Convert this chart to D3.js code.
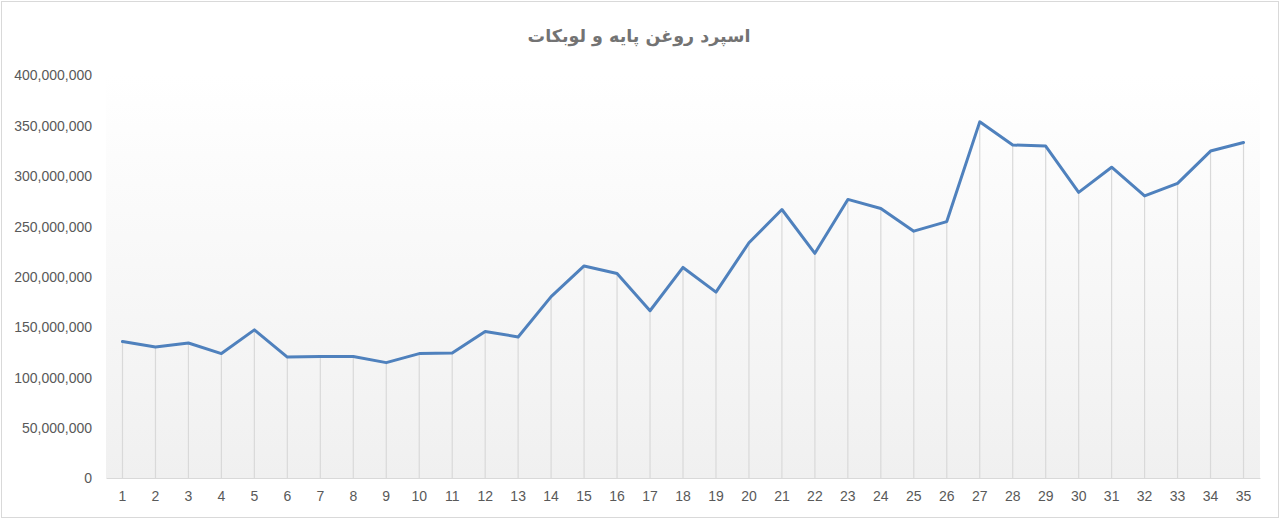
<!DOCTYPE html>
<html>
<head>
<meta charset="utf-8">
<script src="https://cdn.jsdelivr.net/npm/d3@7"></script>
<style>
  html, body { margin: 0; padding: 0; background: #fff; }
  svg { display: block; }
  .tick text { font-family: "Liberation Sans", Arial, sans-serif; font-size: 14px; fill: #595959; }
</style>
</head>
<body>
<svg id="chart" width="1280" height="519"></svg>
<script>
// periods 1..35
const categories = d3.range(1, 36).map(String);

// spread values
const spread = [
  135.5e6, 130e6, 134e6, 123.5e6, 147e6, 120e6, 120.5e6, 120.5e6, 114.5e6, 123.5e6,
  124e6, 145.5e6, 140e6, 180e6, 210.5e6, 203e6, 166e6, 209e6, 184.5e6, 233.5e6,
  266.5e6, 223e6, 276.5e6, 267.5e6, 245e6, 254.5e6, 353.5e6, 330.5e6, 329.5e6, 283.5e6,
  308.5e6, 280e6, 292.5e6, 324.5e6, 333e6
];

const yTicks = [0, 50e6, 100e6, 150e6, 200e6, 250e6, 300e6, 350e6, 400e6];

const title = "اسپرد روغن پایه و لوبکات";

const W = 1280, H = 519;
const margin = {top: 75, right: 20, bottom: 41, left: 106};
const iw = 1260 - margin.left, ih = 478 - margin.top;

const svg = d3.select("#chart");

// outer frame
svg.append("rect")
  .attr("x", 1.5).attr("y", 1.5)
  .attr("width", W - 3).attr("height", H - 3)
  .attr("fill", "#fff").attr("stroke", "#d9d9d9");

const defs = svg.append("defs");
const grad = defs.append("linearGradient")
  .attr("id", "bgGrad").attr("x1", 0).attr("y1", 0).attr("x2", 0).attr("y2", 1);
grad.append("stop").attr("offset", "0%").attr("stop-color", "#ffffff");
grad.append("stop").attr("offset", "100%").attr("stop-color", "#f0f0f0");

svg.append("text")
  .attr("x", 639).attr("y", 42)
  .attr("text-anchor", "middle")
  .attr("direction", "rtl")
  .style("font-family", "'DejaVu Sans', sans-serif")
  .style("font-weight", "bold")
  .style("font-size", "17.5px")
  .style("fill", "#737373")
  .text(title);

const g = svg.append("g").attr("transform", `translate(${margin.left},${margin.top})`);

const x = d3.scaleBand().domain(categories).range([0, iw]);
const y = d3.scaleLinear().domain([0, 400e6]).range([ih, 0]);

g.append("rect")
  .attr("width", iw).attr("height", ih)
  .attr("fill", "url(#bgGrad)");

const cx = d => x(d) + x.bandwidth() / 2;

// drop lines
g.selectAll(".drop")
  .data(spread)
  .join("line")
  .attr("class", "drop")
  .attr("x1", (d, i) => cx(categories[i]))
  .attr("x2", (d, i) => cx(categories[i]))
  .attr("y1", d => y(d))
  .attr("y2", ih)
  .attr("stroke", "#d9d9d9")
  .attr("stroke-width", 1.2);

// y axis (labels only)
const yAxis = g.append("g")
  .call(d3.axisLeft(y).tickValues(yTicks).tickSize(0).tickPadding(14)
    .tickFormat(d3.format(",")));
yAxis.select(".domain").remove();
yAxis.selectAll(".tick text").attr("dy", "0.35em");

// x axis
const xAxis = g.append("g")
  .attr("transform", `translate(0,${ih})`)
  .call(d3.axisBottom(x).tickSize(0).tickPadding(13));
xAxis.select(".domain").attr("stroke", "#d9d9d9").attr("stroke-width", 1.2);

// series line
const line = d3.line()
  .x((d, i) => cx(categories[i]))
  .y(d => y(d));

g.append("path")
  .datum(spread)
  .attr("fill", "none")
  .attr("stroke", "#4f81bd")
  .attr("stroke-width", 3)
  .attr("stroke-linejoin", "round")
  .attr("stroke-linecap", "round")
  .attr("d", line);
</script>
</body>
</html>
